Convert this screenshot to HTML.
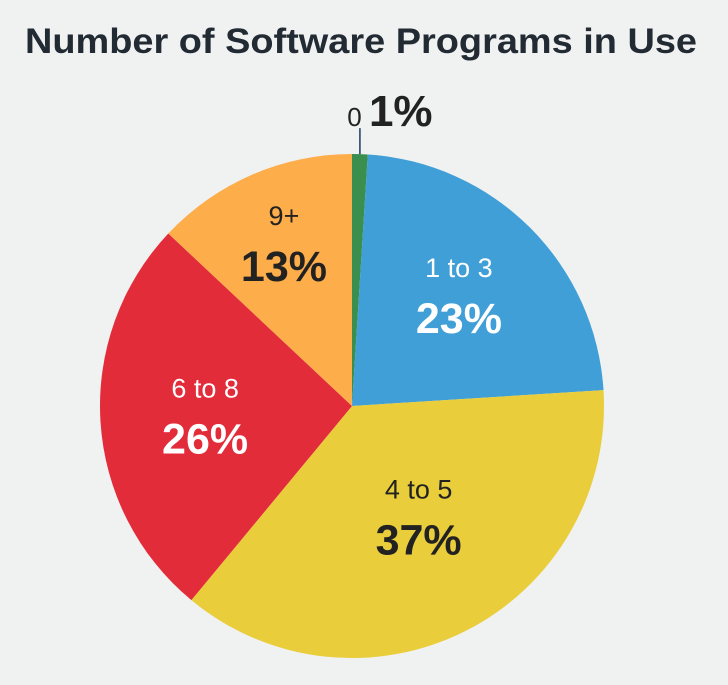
<!DOCTYPE html>
<html><head><meta charset="utf-8"><style>
body{margin:0;background:#f0f1f1;width:728px;height:680px;overflow:hidden;font-family:"Liberation Sans","DejaVu Sans",sans-serif}
</style></head><body>
<svg id="chart" width="728" height="680" xmlns="http://www.w3.org/2000/svg">
<text x="361" y="53" text-anchor="middle" font-size="35" font-weight="bold" fill="#222a33" textLength="672" lengthAdjust="spacingAndGlyphs">Number of Software Programs in Use</text>
<g id="slices"></g><g id="labels"></g>
</svg>
<script>
const categories=["0","1 to 3","4 to 5","6 to 8","9+"];
const values=[1,23,37,26,13];
const colors=["#3a8f4e","#419fd7","#e9cd3a","#e32c3a","#fdad4a"];
const textColors=["#222","#fff","#222","#fff","#222"];
const nudgeX=[0,0,-2,4,-8];
const nudgeY=[0,4,-16,8,-16];
const cx=352,cy=406,R=252,NS="http://www.w3.org/2000/svg";
const total=values.reduce((a,b)=>a+b,0);
const sg=document.getElementById('slices'),lg=document.getElementById('labels');
function pt(a,r){return [cx+r*Math.sin(a),cy-r*Math.cos(a)];}
let acc=0;
values.forEach((v,i)=>{
  const a0=acc/total*2*Math.PI,a1=(acc+v)/total*2*Math.PI;acc+=v;
  const p0=pt(a0,R),p1=pt(a1,R),large=(a1-a0)>Math.PI?1:0;
  const p=document.createElementNS(NS,'path');
  p.setAttribute('d',`M${cx},${cy}L${p0[0]},${p0[1]}A${R},${R} 0 ${large} 1 ${p1[0]},${p1[1]}Z`);
  p.setAttribute('fill',colors[i]);
  
  
  sg.appendChild(p);
  const pct=Math.round(v/total*100)+'%';
  const am=(a0+a1)/2;
  if(v/total<0.05){
    const top=pt(am,R);
    const l=document.createElementNS(NS,'line');
    l.setAttribute('x1',top[0]);l.setAttribute('y1',top[1]);l.setAttribute('x2',top[0]);l.setAttribute('y2',top[1]-26);
    l.setAttribute('stroke','#1f3a5a');l.setAttribute('stroke-width','1.5');
    
    
    lg.appendChild(l);
    const t=document.createElementNS(NS,'text');
    t.setAttribute('x',top[0]+30);t.setAttribute('y',top[1]-28);t.setAttribute('text-anchor','middle');
    
    
    t.innerHTML=`<tspan font-size="26" fill="#222">${categories[i]} </tspan><tspan font-size="44" font-weight="bold" fill="#222">${pct}</tspan>`;
    lg.appendChild(t);
    return;
  }
  const c=pt(am,R*0.6);
  const x=c[0]+nudgeX[i],y=c[1]+nudgeY[i];
  const n=document.createElementNS(NS,'text');
  n.setAttribute('x',x);n.setAttribute('y',y-26);n.setAttribute('text-anchor','middle');
  n.setAttribute('font-size','27');n.setAttribute('fill',textColors[i]);
  
  
  n.textContent=categories[i];lg.appendChild(n);
  const q=document.createElementNS(NS,'text');
  q.setAttribute('x',x);q.setAttribute('y',y+30);q.setAttribute('text-anchor','middle');
  q.setAttribute('font-size','43');q.setAttribute('font-weight','bold');q.setAttribute('fill',textColors[i]);
  
  
  q.textContent=pct;lg.appendChild(q);
});
</script>
</body></html>
